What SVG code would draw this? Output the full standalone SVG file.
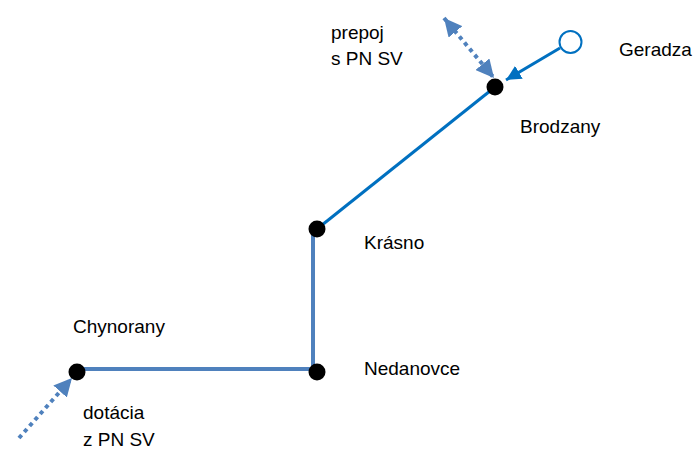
<svg xmlns="http://www.w3.org/2000/svg" width="700" height="462" viewBox="0 0 700 462">
<style>
text{font-family:"Liberation Sans",Arial,sans-serif;font-size:19px;fill:#000}
.node{fill:#000}
.solid{stroke:#0070C0;stroke-width:3;fill:none}
.steel{stroke:#4F81BD;stroke-width:4;fill:none}
.dot{stroke:#4F81BD;stroke-width:4;stroke-dasharray:4 4;fill:none}
</style>
<defs>
<marker id="ah" viewBox="0 0 10 10" refX="10" refY="5" markerWidth="5" markerHeight="5" markerUnits="strokeWidth" orient="auto-start-reverse"><path d="M0,0L10,5L0,10z" fill="#0070C0"/></marker>
<marker id="ahd" viewBox="0 0 10 10" refX="10" refY="5" markerWidth="4.5" markerHeight="4.5" markerUnits="strokeWidth" orient="auto-start-reverse"><path d="M0,0L10,5L0,10z" fill="#4F81BD"/></marker>
</defs>
<g id="connectors">
<line class="solid" x1="495" y1="87" x2="317" y2="229"/>
<polyline class="steel" points="313,229 313,369 77,369"/>
<line class="solid" x1="560" y1="48" x2="506" y2="80" marker-end="url(#ah)"/>
<line class="dot" x1="444" y1="18" x2="494" y2="78" marker-start="url(#ahd)" marker-end="url(#ahd)"/>
<line class="dot" x1="19" y1="438" x2="72" y2="378" marker-end="url(#ahd)"/>
</g>
<g id="geradza"><circle cx="570.5" cy="42" r="11" fill="#fff" stroke="#0070C0" stroke-width="2"/><text x="619" y="56">Geradza</text></g>
<g id="brodzany"><circle class="node" cx="495" cy="87" r="8.5"/><text x="520" y="133">Brodzany</text></g>
<g id="prepoj"><text x="331" y="39">prepoj</text><text x="331" y="65">s PN SV</text></g>
<g id="krasno"><circle class="node" cx="317" cy="229" r="8.5"/><text x="364" y="249">Krásno</text></g>
<g id="nedanovce"><circle class="node" cx="317" cy="372" r="8.5"/><text x="364" y="375">Nedanovce</text></g>
<g id="chynorany"><circle class="node" cx="77" cy="372" r="8.5"/><text x="73" y="333">Chynorany</text></g>
<g id="dotacia"><text x="83" y="419">dotácia</text><text x="83" y="446">z PN SV</text></g>
</svg>
